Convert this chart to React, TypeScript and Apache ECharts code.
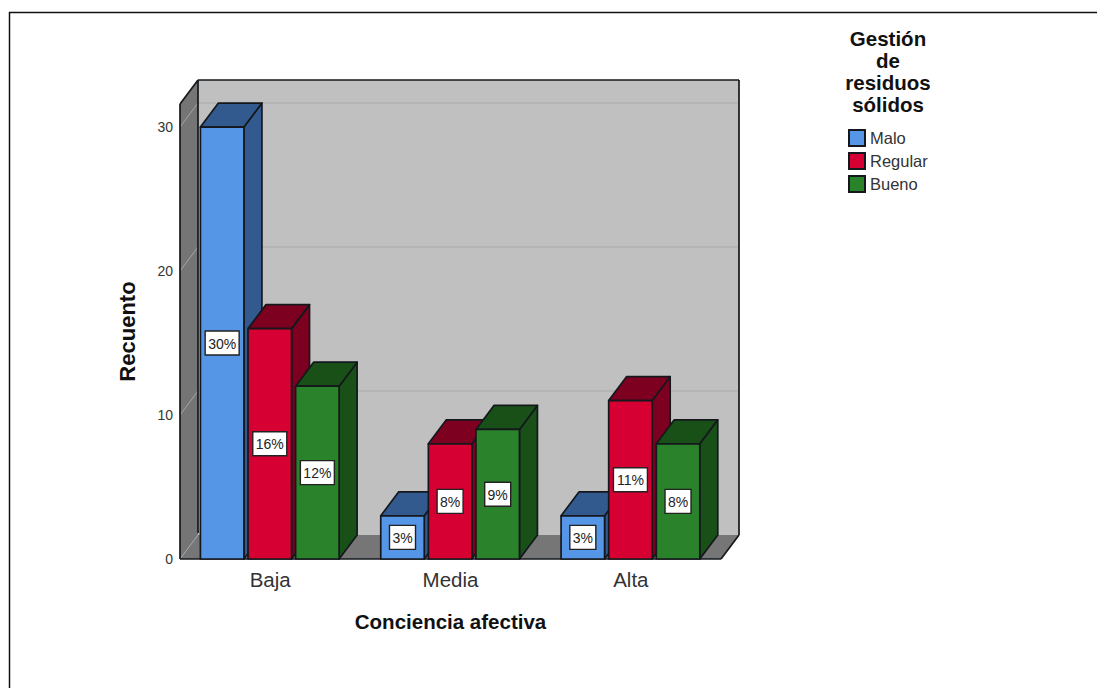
import React, { useEffect, useRef } from "react";
import * as echarts from "echarts";

const categories = ["Baja", "Media", "Alta"];
const maloValues = [30, 3, 3];
const regularValues = [16, 8, 11];
const buenoValues = [12, 9, 8];
const yTicks = [0, 10, 20, 30];
const yMax = 31.6;

const FONT = '"Liberation Sans", Arial, sans-serif';
const EDGE = "#14181c";
const EDGE_WIDTH = 1.7;
const DEPTH_X = 18;
const DEPTH_Y = -24;
const BAR_WIDTH = 43.5;
const BAR_STEP = 47.6;

type Shade = { name: string; values: number[]; front: string; side: string; slot: number };

const groups: Shade[] = [
  { name: "Malo", values: maloValues, front: "#5596E6", side: "#335A8E", slot: -1 },
  { name: "Regular", values: regularValues, front: "#D70032", side: "#7D0020", slot: 0 },
  { name: "Bueno", values: buenoValues, front: "#2A822A", side: "#185018", slot: 1 },
];

const poly = (points: number[][], fill: string, stroke?: string, lineWidth = EDGE_WIDTH) => ({
  type: "polygon",
  shape: { points },
  style: { fill, stroke: stroke ?? "none", lineWidth, lineJoin: "round" },
});

const seg = (a: number[], b: number[], stroke: string, lineWidth = EDGE_WIDTH) => ({
  type: "line",
  shape: { x1: a[0], y1: a[1], x2: b[0], y2: b[1] },
  style: { stroke, lineWidth },
});

// Floor, side wall and back wall of the box, with gridlines set back by the depth offset.
function renderWalls(_params: any, api: any) {
  const band = api.size([1, 0])[0];
  const [cx0, y0] = api.coord([0, 0]);
  const yTop = api.coord([0, yMax])[1];
  const x0 = cx0 - band / 2;
  const x1 = x0 + band * categories.length;
  const dx = DEPTH_X;
  const dy = DEPTH_Y;
  const children: any[] = [
    poly([[x0 + dx, yTop + dy], [x1 + dx, yTop + dy], [x1 + dx, y0 + dy], [x0 + dx, y0 + dy]], "#C0C0C0"),
    poly([[x0, yTop], [x0 + dx, yTop + dy], [x0 + dx, y0 + dy], [x0, y0]], "#757575"),
    poly([[x0, y0], [x0 + dx, y0 + dy], [x1 + dx, y0 + dy], [x1, y0]], "#767676"),
  ];
  yTicks.forEach((t) => {
    const y = api.coord([0, t])[1];
    children.push(seg([x0, y], [x0 + dx, y + dy], "#A4A4A4", 1));
    if (t > 0) children.push(seg([x0 + dx, y + dy], [x1 + dx, y + dy], "#B2B2B2", 1.4));
  });
  children.push(
    seg([x0, y0], [x0, yTop], EDGE),
    seg([x0, yTop], [x0 + dx, yTop + dy], EDGE),
    seg([x0 + dx, yTop + dy], [x1 + dx, yTop + dy], EDGE),
    seg([x0 + dx, yTop + dy], [x0 + dx, y0 + dy - 2], EDGE),
    seg([x1 + dx, yTop + dy], [x1 + dx, y0 + dy], EDGE),
    seg([x1 + dx, y0 + dy], [x1, y0], EDGE),
    seg([x0, y0], [x1, y0], EDGE)
  );
  return { type: "group", children };
}

// One extruded bar: side and top faces, the front face, then its percentage tag.
const renderBar = (group: Shade) => (_params: any, api: any) => {
  const value = api.value(1);
  const [cx, yTop] = api.coord([api.value(0), value]);
  const y0 = api.coord([api.value(0), 0])[1];
  const center = cx + group.slot * BAR_STEP - 0.4;
  const l = center - BAR_WIDTH / 2;
  const r = center + BAR_WIDTH / 2;
  const text = `${value}%`;
  const tagW = value >= 10 ? 34 : 26;
  const tagH = 24;
  const midY = (yTop + y0) / 2;
  return {
    type: "group",
    children: [
      poly([[r, yTop], [r + DEPTH_X, yTop + DEPTH_Y], [r + DEPTH_X, y0 + DEPTH_Y], [r, y0]], group.side, EDGE),
      poly([[l, yTop], [l + DEPTH_X, yTop + DEPTH_Y], [r + DEPTH_X, yTop + DEPTH_Y], [r, yTop]], group.side, EDGE),
      poly([[l, yTop], [r, yTop], [r, y0], [l, y0]], group.front, EDGE),
      {
        type: "rect",
        shape: { x: center - tagW / 2, y: midY - tagH / 2, width: tagW, height: tagH },
        style: { fill: "#FFFFFF", stroke: "#222222", lineWidth: 1.4 },
      },
      {
        type: "text",
        style: {
          text,
          x: center,
          y: midY + 0.5,
          align: "center",
          verticalAlign: "middle",
          fontFamily: FONT,
          fontSize: 14,
          fill: "#222222",
        },
      },
    ],
  };
};

export default function App() {
  const ref = useRef<HTMLDivElement>(null);

  useEffect(() => {
    const chart = echarts.init(ref.current!, undefined, { renderer: "svg" });
    chart.setOption({
      animation: false,
      backgroundColor: "#FFFFFF",
      textStyle: { fontFamily: FONT },
      grid: { left: 180, top: 104, width: 541, height: 455 },
      xAxis: {
        type: "category",
        data: categories,
        name: "Conciencia afectiva",
        nameLocation: "middle",
        nameGap: 52,
        nameTextStyle: { fontFamily: FONT, fontSize: 20.5, fontWeight: "bold", color: "#111111" },
        axisLine: { show: false },
        axisTick: { show: false },
        axisLabel: { fontFamily: FONT, fontSize: 20.5, color: "#333333", margin: 10 },
      },
      yAxis: {
        type: "value",
        min: 0,
        max: yMax,
        interval: 10,
        name: "Recuento",
        nameLocation: "middle",
        nameGap: 42,
        nameTextStyle: { fontFamily: FONT, fontSize: 22, fontWeight: "bold", color: "#111111" },
        axisLine: { show: false },
        axisTick: { show: false },
        splitLine: { show: false },
        axisLabel: {
          fontFamily: FONT,
          fontSize: 14,
          color: "#333333",
          margin: 7,
          showMaxLabel: false,
          padding: [3, 0, 0, 0],
        },
      },
      legend: {
        orient: "vertical",
        left: 843,
        top: 124,
        icon: "rect",
        itemWidth: 16,
        itemHeight: 16,
        itemGap: 5,
        selectedMode: false,
        data: groups.map((g) => g.name),
        textStyle: { fontFamily: FONT, fontSize: 16.5, color: "#333333" },
      },
      graphic: [
        {
          type: "text",
          x: 888,
          y: 27,
          style: {
            text: "Gestión\nde\nresiduos\nsólidos",
            align: "center",
            fontFamily: FONT,
            fontSize: 20.5,
            fontWeight: "bold",
            lineHeight: 22,
            fill: "#111111",
          },
        },
        { type: "line", shape: { x1: 9, y1: 12.5, x2: 1097, y2: 12.5 }, style: { stroke: "#111111", lineWidth: 1.5 } },
        { type: "line", shape: { x1: 9.5, y1: 12, x2: 9.5, y2: 688 }, style: { stroke: "#111111", lineWidth: 1.5 } },
      ],
      series: [
        {
          type: "custom",
          name: "walls",
          silent: true,
          z: 1,
          renderItem: renderWalls,
          data: [[0, 0]],
          encode: { x: 0, y: 1 },
        },
        ...groups.map((g) => ({
          type: "custom",
          name: g.name,
          z: 2,
          renderItem: renderBar(g),
          itemStyle: { color: g.front, borderColor: EDGE, borderWidth: 1.4 },
          data: g.values.map((v, i) => [i, v]),
          encode: { x: 0, y: 1 },
        })),
      ],
    });
    return () => chart.dispose();
  }, []);

  return <div ref={ref} style={{ position: "absolute", left: 0, top: 0, width: 1097, height: 688 }} />;
}
